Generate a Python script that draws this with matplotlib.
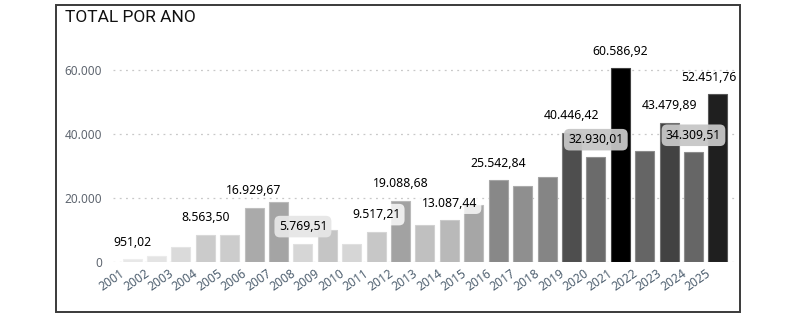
import matplotlib
matplotlib.use("Agg")
import matplotlib.pyplot as plt
import matplotlib.transforms as mtransforms
from matplotlib.colors import LinearSegmentedColormap, Normalize, to_rgb
from matplotlib.patches import Rectangle

# ---------------- data ----------------
years = list(range(2001, 2026))
totals = [951.02, 1980, 4600, 8563.50, 8350, 16929.67, 18600, 5769.51, 10150, 5650,
          9517.21, 19088.68, 11420, 13087.44, 17780, 25542.84, 23880, 26480, 40446.42,
          32930.01, 60586.92, 34600, 43479.89, 34309.51, 52451.76]
labeled_years = [2001, 2004, 2006, 2008, 2011, 2012, 2014, 2016, 2019, 2020,
                 2021, 2023, 2024, 2025]
y_ticks = [0, 20000, 40000, 60000]
y_tick_labels = ["0", "20.000", "40.000", "60.000"]
title = "TOTAL POR ANO"

# ---------------- styles ----------------
W, H, DPI = 788, 325, 100
FONT = "Noto Sans"
label_boxes = {2008: ("#e6e6e6", 0.95), 2011: ("white", 0.8), 2014: ("white", 0.8),
               2020: ("#c6c6c6", 0.95), 2024: ("#c6c6c6", 0.95)}
label_shift_px = {2025: -9}

def fmt_br(v):
    s = f"{v:,.2f}"
    return s.replace(",", "X").replace(".", ",").replace("X", ".")

plt.rcParams["font.family"] = [FONT, "DejaVu Sans"]
fig = plt.figure(figsize=(W / DPI, H / DPI), dpi=DPI)
fig.patch.set_facecolor("white")

# card border
fig.add_artist(Rectangle((56 / W, 1 - 312 / H), (740 - 56) / W, (312 - 5) / H,
                         transform=fig.transFigure, fill=False,
                         edgecolor="#3a3a3a", lw=1.4))

ax = fig.add_axes([113 / W, (H - 262) / H, (735 - 113) / W, (262 - 38) / H])

cmap = LinearSegmentedColormap.from_list("g", ["#e8e8e8", "#000000"])
norm = Normalize(vmin=min(totals), vmax=max(totals))
colors = [cmap(norm(v)) for v in totals]
edges = [tuple(0.75 * c + 0.25 for c in to_rgb(col)) for col in colors]

x = list(range(len(years)))
ax.bar(x, totals, width=0.78, color=colors, edgecolor=edges, linewidth=0.8, zorder=2)

ax.set_xlim(-0.78, len(years) - 1 + 0.7)
ax.set_ylim(0, 70000)
for s in ax.spines.values():
    s.set_visible(False)

ax.set_yticks(y_ticks)
ax.set_yticklabels(y_tick_labels)
ax.yaxis.grid(True, color="#c8c8c8", linestyle=(0, (1.5, 3.5)), linewidth=0.9, zorder=0)
ax.tick_params(axis="y", length=0, pad=8, labelsize=8.5, labelcolor="#5f6670")

ax.set_xticks(x)
ax.set_xticklabels([str(y) for y in years])
ax.tick_params(axis="x", length=0, pad=7, labelsize=8.7, labelcolor="#4f6070")
off = mtransforms.ScaledTranslation(-8.6 / DPI, 0, fig.dpi_scale_trans)
for lab in ax.get_xticklabels():
    lab.set_rotation(35)
    lab.set_ha("right")
    lab.set_va("center")
    lab.set_rotation_mode("anchor")
    lab.set_transform(lab.get_transform() + off)

for yr in labeled_years:
    i = years.index(yr)
    v = totals[i]
    kw = {}
    if yr in label_boxes:
        fc, al = label_boxes[yr]
        kw["bbox"] = dict(boxstyle="round,pad=0.35,rounding_size=0.45", fc=fc,
                          ec="none", alpha=al)
    dx = label_shift_px.get(yr, 0) * 0.72
    ax.annotate(fmt_br(v), (i, v), xytext=(dx, 12.2), textcoords="offset points",
                ha="center", va="center", fontsize=8.8, color="#000000",
                zorder=5, annotation_clip=False, **kw)

fig.text(65 / W, (H - 21.7) / H, title, fontsize=12.5, color="#111111",
         family=["Roboto", "DejaVu Sans"], va="baseline", ha="left")

fig.savefig("out.png", dpi=DPI)
